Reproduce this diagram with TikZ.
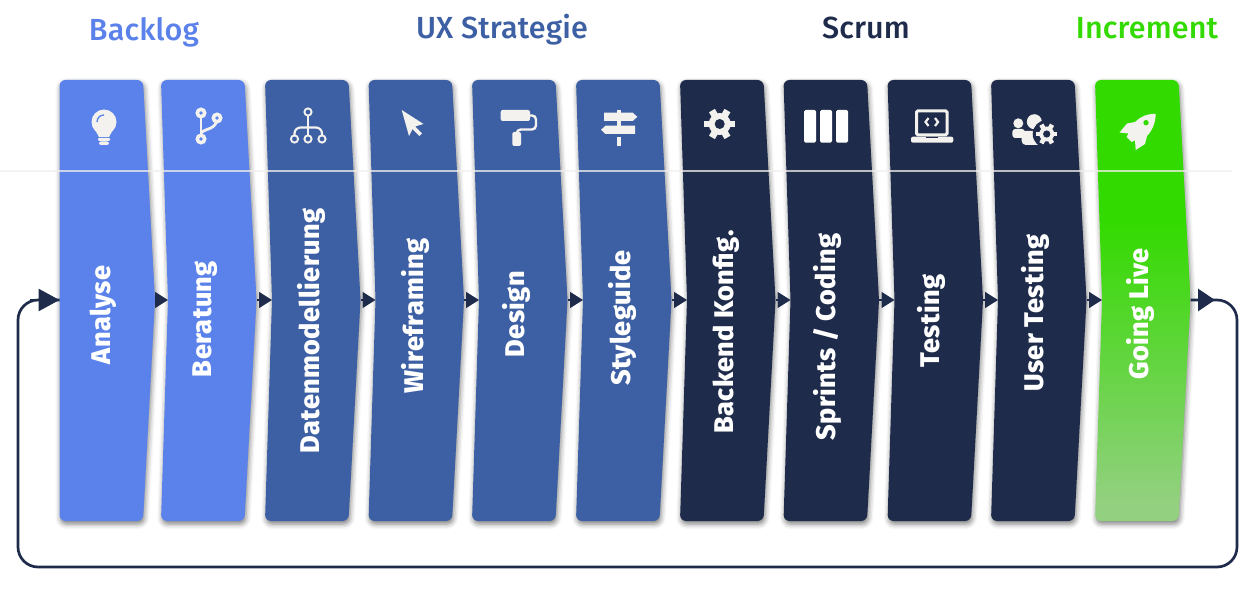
\documentclass[tikz,border=0pt]{standalone}
\usepackage{fontspec}
\setmainfont{Fira Sans}
\newfontfamily\stagefont[LetterSpace=1.5]{Fira Sans ExtraBold}
\newfontfamily\headfont[LetterSpace=0.5]{Fira Sans Medium}
\usepackage{tikz}
\usetikzlibrary{
  positioning,
  arrows.meta,
  calc,
  shadows.blur,
}
\definecolor{fillBacklog}{HTML}{5B82EA}
\definecolor{fillStrategy}{HTML}{3D5FA3}
\definecolor{fillScrum}{HTML}{1E2B4A}
\definecolor{fillGreen}{HTML}{33DA00}
\definecolor{fillFade}{HTML}{93D080}
\definecolor{iconCol}{HTML}{F4F2EF}
\definecolor{seamCol}{HTML}{F1EFEC}
\pgfdeclareverticalshading{greenfade}{100bp}{color(0bp)=(fillFade); color(27bp)=(fillFade); color(59bp)=(fillGreen); color(100bp)=(fillGreen)}
\tikzset{
  stage/.style={
    rounded corners=6pt,
    blur shadow={shadow xshift=1pt, shadow yshift=-3pt, shadow blur radius=5pt, shadow opacity=50},
  },
  stagetext/.style={rotate=90, text=white, font=\fontsize{27}{27}\selectfont\stagefont, inner sep=0pt},
  headline/.style={font=\fontsize{30.5}{30.5}\selectfont\headfont, inner sep=0pt},
  steparrow/.style={-{Triangle[length=13pt, width=16pt]}, fillScrum, line width=1.5pt},
  loopline/.style={fillScrum, line width=2.7pt, rounded corners=20pt},
  looparrow/.style={-{Triangle[length=17pt, width=22pt]}, fillScrum, line width=2.7pt},
  looparrowleft/.style={-{Triangle[length=21pt, width=22pt]}, fillScrum, line width=2.7pt},
  iconfill/.style={fill=iconCol},
  iconline/.style={draw=iconCol, line width=2.4pt},
}
% one chevron: name, left x, notch depth, fill options
\newcommand{\stagebox}[4]{
  \path[stage, #4] (#2+#3,300) -- (#2,80) -- (#2+83.5,80) -- (#2+95.5,300) -- (#2+83.5,521) -- (#2,521) -- cycle;
  \coordinate (#1in) at (#2+#3,300);
  \coordinate (#1out) at (#2+95.5,300);
}
% gear icon: x, y, body radius, hole radius, tooth length, hole colour
\newcommand{\gearicon}[6]{
  \foreach \a in {0,60,...,300} {
    \draw[iconCol, line width=#3*0.62pt] (#1,#2) -- ++(\a:#3+#5);
  }
  \fill[iconfill] (#1,#2) circle (#3pt);
  \fill[#6] (#1,#2) circle (#4pt);
}
\begin{document}
\begin{tikzpicture}[x=1pt, y=-1pt]
  \useasboundingbox (0,0) rectangle (1260,593);

  % Stages
  \stagebox{s1}{59.5}{0}{fill=fillBacklog}
  \stagebox{s2}{161}{7}{fill=fillBacklog}
  \stagebox{s3}{265}{7}{fill=fillStrategy}
  \stagebox{s4}{368.5}{7}{fill=fillStrategy}
  \stagebox{s5}{472}{7}{fill=fillStrategy}
  \stagebox{s6}{576}{7}{fill=fillStrategy}
  \stagebox{s7}{680}{7}{fill=fillScrum}
  \stagebox{s8}{783.5}{7}{fill=fillScrum}
  \stagebox{s9}{887.5}{7}{fill=fillScrum}
  \stagebox{s10}{991}{7}{fill=fillScrum}
  \stagebox{s11}{1095}{7}{shading=greenfade}

  \draw[seamCol, opacity=0.75, line width=1.2pt] (0,171) -- (1232,171);

  % Headlines
  \node[headline, text=fillBacklog] (backlog) at (144,32) {Backlog};
  \node[headline, text=fillStrategy] (strategy) at (502,30) {UX Strategie};
  \node[headline, text=fillScrum] (scrum) at (866,28) {Scrum};
  \node[headline, text=fillGreen] (increment) at (1147,28) {Increment};

  % Labels
  \node[stagetext] (t1) at (103,315) {Analyse};
  \node[stagetext] (t2) at (205,319) {Beratung};
  \node[stagetext] (t3) at (311,331) {Datenmodellierung};
  \node[stagetext] (t4) at (415,316) {Wireframing};
  \node[stagetext] (t5) at (516,314) {Design};
  \node[stagetext] (t6) at (622,318) {Styleguide};
  \node[stagetext] (t7) at (726,332) {Backend Konfig.};
  \node[stagetext] (t8) at (827,337) {Sprints / Coding};
  \node[stagetext] (t9) at (931,321) {Testing};
  \node[stagetext] (t10) at (1035,313) {User Testing};
  \node[stagetext] (t11) at (1140,314) {Going Live};

  % Arrows
  \draw[steparrow] (s1out) -- (s2in);
  \draw[steparrow] (s2out) -- (s3in);
  \draw[steparrow] (s3out) -- (s4in);
  \draw[steparrow] (s4out) -- (s5in);
  \draw[steparrow] (s5out) -- (s6in);
  \draw[steparrow] (s6out) -- (s7in);
  \draw[steparrow] (s7out) -- (s8in);
  \draw[steparrow] (s8out) -- (s9in);
  \draw[steparrow] (s9out) -- (s10in);
  \draw[steparrow] (s10out) -- (s11in);

  % Return loop
  \coordinate (loopR) at (1215,300);
  \draw[loopline] (s11out) -- (1237,300) -- (1237,567) -- (18,567) -- (18,300) -- (s1in);
  \draw[looparrow] (s11out) -- (loopR);
  \draw[looparrowleft] (30,300) -- (s1in);

  % Bulb
  \fill[iconfill] (104,122) circle (12.5pt);
  \fill[iconfill] (94,128) -- (114,128) -- (109,137) -- (99,137) -- cycle;
  \fill[iconfill, rounded corners=1pt] (98,138) rectangle (110,141);
  \fill[iconfill, rounded corners=2pt] (99,141.5) rectangle (109,145);
  \draw[fillBacklog, line width=1.3pt] (97,122) .. controls (97,118) and (100,115) .. (104,115);

  % Branch
  \draw[iconline, line width=2.8pt] (201,113) -- (201,139);
  \draw[iconline, line width=2.8pt] (217,118) .. controls (217,130) and (205,128) .. (201,133);
  \foreach \x/\y in {201/113, 217/118, 201/139} {
    \fill[iconfill] (\x,\y) circle (5.6pt);
    \fill[fillBacklog] (\x,\y) circle (1.8pt);
  }

  % Tree
  \draw[iconline, line width=2.2pt] (308,116) -- (308,135.5);
  \draw[iconline, line width=2.2pt, rounded corners=6pt] (294.5,135.5) -- (294.5,127.5) -- (322,127.5) -- (322,135.5);
  \foreach \x/\y in {308/112, 294.5/139, 308/139, 322/139} {
    \draw[iconline, line width=1.9pt] (\x,\y) circle (3.6pt);
  }

  % Cursor
  \fill[iconfill] (401.7,110) -- (423.5,124) -- (415,126.5) -- (422,133.5) -- (419.3,136) -- (412.5,129) -- (409,136) -- cycle;

  % Roller
  \fill[iconfill, rounded corners=2pt] (500.7,110) rectangle (530,121);
  \draw[iconline, rounded corners=4pt] (530,115.5) -- (536,115.5) -- (536,129.5) -- (516.7,129.5) -- (516.7,135);
  \fill[iconfill, rounded corners=2pt] (512.3,132) rectangle (521,146);

  % Signpost
  \fill[iconfill] (616.7,110) rectangle (621.3,113);
  \fill[iconfill] (616.7,121) rectangle (621.3,126);
  \fill[iconfill] (616.7,137) rectangle (621.3,146);
  \fill[iconfill] (604,112.7) -- (632.7,112.7) -- (637.3,116.8) -- (632.7,121) -- (604,121) -- cycle;
  \fill[iconfill] (635,125.7) -- (605.5,125.7) -- (601,129.8) -- (605.5,134) -- (635,134) -- cycle;

  % Gear
  \gearicon{719.7}{124}{11}{5}{4.5}{fillScrum}

  % Columns
  \fill[white, rounded corners=1.5pt] (804,110) rectangle (816,142.7);
  \fill[white, rounded corners=1.5pt] (820,110) rectangle (832,142.7);
  \fill[white, rounded corners=1.5pt] (836,110) rectangle (848,142.7);

  % Laptop
  \draw[iconline, line width=3pt, rounded corners=1.5pt] (916.5,110.8) rectangle (947,135);
  \fill[iconfill, rounded corners=2pt] (911,136.7) rectangle (953.3,142.7);
  \fill[fillScrum] (926,136.7) rectangle (938,138);
  \draw[iconline, line width=2.2pt] (928.5,118) -- (925.5,122) -- (928.5,126);
  \draw[iconline, line width=2.2pt] (935,118) -- (938,122) -- (935,126);

  % Users and gear
  \fill[iconfill] (1034.3,121.7) circle (7.5pt);
  \fill[iconfill] (1018.3,123.3) circle (5pt);
  \fill[iconfill, rounded corners=3pt] (1012.3,129) rectangle (1025,138);
  \fill[iconfill, rounded corners=4pt] (1021.7,131) rectangle (1045,145);
  \fill[fillScrum] (1046.7,134) circle (14pt);
  \gearicon{1046.7}{134}{7.5}{3.6}{3.2}{fillScrum}

  % Rocket
  \fill[iconfill] (1155.5,114) .. controls (1147,113.5) and (1140,117) .. (1135,122) -- (1127,123.5) -- (1119.5,132.5) -- (1128.5,133.5) -- (1126.5,137) -- (1131.5,142) -- (1135,140.5) -- (1135.7,150) -- (1145,144) -- (1147,136) .. controls (1152,131) and (1156,122) .. (1155.5,114) -- cycle;
  \fill[fillGreen] (1146,122.7) circle (2.7pt);
\end{tikzpicture}
\end{document}
